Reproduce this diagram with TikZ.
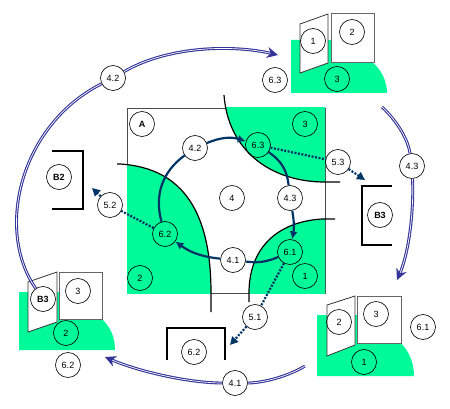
\documentclass[tikz,border=0pt]{standalone}
\usepackage{fontspec}
\setmainfont{Liberation Sans}
\usetikzlibrary{arrows.meta,positioning}

\definecolor{mint}{RGB}{0,250,154}
\definecolor{flowblue}{RGB}{0,51,102}
\definecolor{loopblue}{RGB}{51,51,153}

\tikzset{
  num/.style={circle,draw,line width=0.6pt,minimum size=25pt,inner sep=0pt,font=\fontsize{9}{10}\selectfont},
  tag/.style={num,font=\fontsize{9}{10}\selectfont\bfseries},
  wall/.style={line width=1.2pt},
  bracket/.style={line width=1.6pt},
  flow/.style={flowblue,line width=2.2pt},
  spill/.style={flowblue,line width=2.2pt,dash pattern=on 2pt off 1.5pt},
  loop/.style={draw=loopblue,double=white,line width=1.1pt,double distance=0.7pt},
  loophead/.style={-{Stealth[length=11pt,width=11pt,fill=loopblue]}},
  panel/.style={fill=white,draw=black!60,line width=0.8pt},
}

\begin{document}
\begin{tikzpicture}[x=1pt,y=1pt,>=Latex]
  \useasboundingbox (0,0) rectangle (450,-409);

  % Square A with its three green corners
  \draw[black!70,line width=0.6pt] (127,-108) rectangle (325,-293);
  \begin{scope}
    \clip (127,-108) rectangle (325,-293);
    \fill[mint] (224,-95) .. controls (228,-150) and (270,-182) .. (325,-182) -- (340,-182) -- (340,-95) -- cycle;
    \fill[mint] (117,-164) -- (120,-164) .. controls (185,-168) and (211,-215) .. (211,-293) -- (211,-312) -- (117,-312) -- cycle;
    \fill[mint] (338,-219) -- (322,-219) .. controls (275,-222) and (249,-250) .. (249,-293) -- (249,-312) -- (338,-312) -- cycle;
  \end{scope}
  \draw[wall] (224,-95) .. controls (228,-150) and (270,-182) .. (325,-182) -- (340,-182);
  \draw[wall] (117,-164) -- (120,-164) .. controls (185,-168) and (211,-215) .. (211,-293) -- (211,-312);
  \draw[wall] (335,-219) -- (322,-219) .. controls (275,-222) and (249,-250) .. (249,-293) -- (249,-302);

  \node[tag] (a) at (142,-124) {A};
  \node[num] (q3) at (305,-124) {3};
  \node[num] (q4) at (232,-198) {4};
  \node[num] (q2) at (140,-278) {2};
  \node[num] (q1) at (305,-276) {1};

  \node[num] (c42) at (195,-148) {4.2};
  \node[num] (c63) at (258,-145) {6.3};
  \node[num] (c43) at (290,-198) {4.3};
  \node[num] (c61) at (290,-252) {6.1};
  \node[num] (c41) at (233,-260) {4.1};
  \node[num] (c62) at (165,-234) {6.2};

  % inner loop
  \draw[flow,-{Latex[length=8pt,width=8pt]}] (c42) to[bend left=20] (c63);
  \draw[flow] (c63) to[bend left=25] (c43);
  \draw[flow,-{Latex[length=8pt,width=8pt]}] (c43) to[bend left=10] (c61);
  \draw[flow] (c61) to[bend left=15] (c41);
  \draw[flow,-{Latex[length=8pt,width=8pt]}] (c41) to[bend left=15] (c62);
  \draw[flow] (c62) to[bend left=35] (c42);

  % brackets B2, B3 and 6.2
  \draw[bracket] (52,-151) -- (83,-151) -- (83,-209) -- (52,-209);
  \node[tag] (b2) at (59,-177) {B2};
  \draw[bracket] (392,-186) -- (362,-186) -- (362,-245) -- (392,-245);
  \node[tag] (b3) at (380,-215) {B3};
  \draw[bracket] (167,-360) -- (167,-328) -- (225,-328) -- (225,-360);
  \node[num] (k62) at (194,-352) {6.2};

  % spills out of A
  \node[num] (s53) at (338,-162) {5.3};
  \node[num] (s51) at (255,-317) {5.1};
  \node[num] (s52) at (110,-205) {5.2};
  \coordinate (t53) at (365,-180);
  \coordinate (t51) at (230,-345);
  \coordinate (t52) at (92,-188);
  \draw[spill] (c63) -- (s53);
  \draw[spill,-{Triangle[length=8pt,width=8pt]}] (s53) -- (t53);
  \draw[spill] (c61) -- (s51);
  \draw[spill,-{Triangle[length=8pt,width=8pt]}] (s51) -- (t51);
  \draw[spill] (c62) -- (s52);
  \draw[spill,-{Triangle[length=8pt,width=8pt]}] (s52) -- (t52);

  % top-right panel
  \fill[mint] (291,-40) -- (372,-40) -- (372,-62) .. controls (382,-70) and (387,-82) .. (387,-93) -- (291,-93) -- cycle;
  \filldraw[panel] (331,-13) rectangle (374,-62);
  \filldraw[panel,draw=black!80] (300,-24) -- (328,-14) -- (328,-63) -- (300,-73) -- cycle;
  \node[num] (p1) at (313,-41) {1};
  \node[num] (p2) at (352,-32) {2};
  \node[num] (p3) at (337,-79) {3};
  \node[num] (p63) at (275,-80) {6.3};

  % bottom-right panel
  \fill[mint] (317,-315) -- (401,-315) -- (401,-343) .. controls (409,-352) and (414,-362) .. (414,-376) -- (317,-376) -- cycle;
  \filldraw[panel] (357,-296) rectangle (401,-343);
  \filldraw[panel,draw=black!80] (327,-305) -- (355,-296) -- (355,-345) -- (327,-356) -- cycle;
  \node[num] (r2) at (339,-322) {2};
  \node[num] (r3) at (376,-314) {3};
  \node[num] (r1) at (364,-362) {1};
  \node[num] (r61) at (423,-327) {6.1};

  % bottom-left panel
  \fill[mint] (19,-292) -- (102,-292) -- (102,-319) .. controls (110,-327) and (115,-336) .. (115,-350) -- (19,-350) -- cycle;
  \filldraw[panel] (59,-272) rectangle (102,-319);
  \filldraw[panel,draw=black!80] (28,-282) -- (57,-272) -- (57,-322) -- (28,-332) -- cycle;
  \node[tag] (l3b) at (43,-299) {B3};
  \node[num] (l3) at (78,-291) {3};
  \node[num] (l2) at (66,-333) {2};
  \node[num] (l62) at (68,-365) {6.2};

  % outer loop
  \node[num] (o42) at (113,-78) {4.2};
  \node[num] (o43) at (412,-166) {4.3};
  \node[num] (o41) at (235,-383) {4.1};
  \coordinate (u1) at (278,-55);
  \coordinate (v2) at (382,-107);
  \coordinate (u2) at (397,-280);
  \coordinate (v3) at (305,-366);
  \coordinate (u3) at (105,-357);
  \draw[loop] (l3b) .. controls (-5,-230) and (20,-125) .. (o42);
  \draw[loop,loophead] (o42) .. controls (170,-45) and (235,-45) .. (u1);
  \draw[loop] (v2) .. controls (398,-122) and (408,-140) .. (o43);
  \draw[loop,loophead] (o43) .. controls (414,-215) and (408,-255) .. (u2);
  \draw[loop] (v3) .. controls (285,-378) and (260,-383) .. (o41);
  \draw[loop,loophead] (o41) .. controls (190,-383) and (140,-372) .. (u3);

\end{tikzpicture}
\end{document}
